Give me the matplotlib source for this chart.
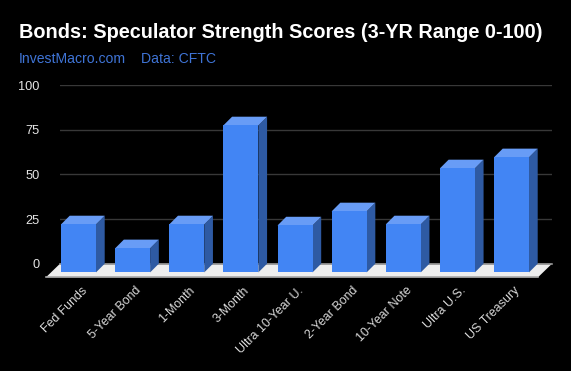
"""Bonds speculator strength scores, 3D look bar chart."""

import matplotlib

matplotlib.use("Agg")
import matplotlib.pyplot as plt
from matplotlib.patches import Polygon
from matplotlib.transforms import ScaledTranslation

categories = [
    "Fed Funds",
    "5-Year Bond",
    "1-Month",
    "3-Month",
    "Ultra 10-Year U.",
    "2-Year Bond",
    "10-Year Note",
    "Ultra U.S.",
    "US Treasury",
]
scores = [26.9, 13.5, 26.9, 82.4, 26.3, 34.2, 26.9, 58.3, 64.5]
y_ticks = [0, 25, 50, 75, 100]

W, H = 571, 371
STEP = 54.125
BAR_W = 35 / STEP
DEPTH_X = 8.7 / STEP
DEPTH_Y = 8.7 / 1.784

plt.rcParams["font.family"] = ["Liberation Sans", "DejaVu Sans"]

fig = plt.figure(figsize=(W / 100, H / 100), dpi=100, facecolor="black")
ax = fig.add_axes([60 / W, 1 - 263.7 / H, 492 / W, 178.4 / H], facecolor="black")
ax.set_xlim(-18.5 / STEP, 473.5 / STEP)
ax.set_ylim(0, 100)
for side in ax.spines.values():
    side.set_visible(False)

ax.set_yticks(y_ticks)
ax.set_xticks(range(len(categories)))
ax.set_xticklabels(categories, rotation=45, ha="right", rotation_mode="anchor")
ax.tick_params(axis="y", length=0, pad=14.6, labelsize=9.2, labelcolor="#e6e6e6")
ax.tick_params(axis="x", length=0, pad=15, labelsize=8.9, labelcolor="#d9d9d9")
shift = ScaledTranslation(2.5 / 100, 0, fig.dpi_scale_trans)
for lab in ax.get_xticklabels():
    lab.set_transform(lab.get_transform() + shift)
ax.grid(axis="y", color="#383838", lw=1)
ax.set_axisbelow(True)

# floor, grey strips only along back and front edge
x0, x1 = ax.get_xlim()
floor_front = -7.6
floor_dx = 14 / STEP
ax.add_patch(Polygon(
    [(x0, 0), (x1, 0), (x1 - floor_dx, floor_front), (x0 - floor_dx, floor_front)],
    closed=True, facecolor="#eeeeee", lw=0, clip_on=False, zorder=2,
))
ax.plot([x0, x1], [0, 0], color="#8f8f8f", lw=1.2, clip_on=False, zorder=2.5)
ax.plot([x0 - floor_dx, x1 - floor_dx], [floor_front, floor_front],
        color="#a8a8a8", lw=1.2, clip_on=False, zorder=2.5)

# bars: front, top and side faces
for i, val in enumerate(scores):
    left = i - BAR_W / 2
    right = i + BAR_W / 2
    base = -DEPTH_Y
    top = val - DEPTH_Y
    ax.add_patch(Polygon(
        [(right, base), (right + DEPTH_X, 0), (right + DEPTH_X, val), (right, top)],
        closed=True, facecolor="#2e5aa3", lw=0, clip_on=False, zorder=3,
    ))
    ax.add_patch(Polygon(
        [(left, top), (right, top), (right + DEPTH_X, val), (left + DEPTH_X, val)],
        closed=True, facecolor="#689cf6", lw=0, clip_on=False, zorder=3,
    ))
    ax.add_patch(Polygon(
        [(left, base), (right, base), (right, top), (left, top)],
        closed=True, facecolor="#4285f4", lw=0, clip_on=False, zorder=4,
    ))

fig.text(19 / W, 1 - 37.5 / H, "Bonds: Speculator Strength Scores (3-YR Range 0-100)",
         color="white", fontsize=14.3, fontweight="bold", va="baseline")
fig.text(19 / W, 1 - 63 / H, "InvestMacro.com", color="#3f74d6", fontsize=10.1, va="baseline")
fig.text(141 / W, 1 - 63 / H, "Data: CFTC", color="#3f74d6", fontsize=10.1, va="baseline")

fig.savefig("out.png", dpi=100, facecolor="black")
